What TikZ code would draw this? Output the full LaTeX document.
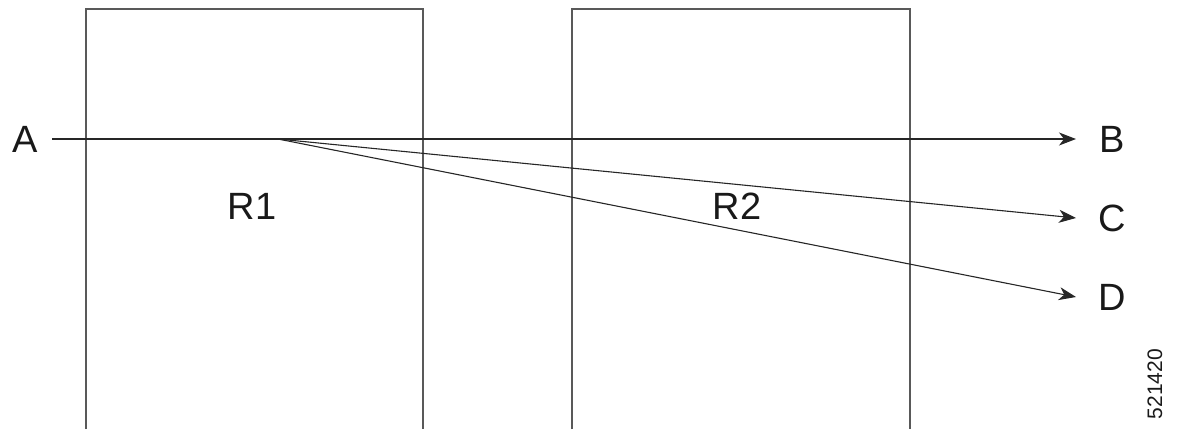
\documentclass[tikz,border=0pt]{standalone}
\usepackage{fontspec}
\setmainfont{Liberation Sans}
\usetikzlibrary{arrows.meta}
\begin{document}
\begin{tikzpicture}[x=1pt,y=-1pt,
  box/.style={draw=black!65, line width=1.5pt},
  conn/.style={draw=black!85, line width=1.1pt, -{Stealth[length=17pt,width=13pt,inset=5pt]}},
  lbl/.style={font=\fontsize{38}{40}\selectfont, inner sep=0pt, text=black!90}]
\useasboundingbox (0,0) rectangle (1178,429);
% boxes (open at the bottom)
\draw[box] (86,429) -- (86,9) -- (423,9) -- (423,429);
\draw[box] (572,429) -- (572,9) -- (910,9) -- (910,429);
% labels
\node[lbl] (A) at (25,139) {A};
\node[lbl] (R1) at (252,206) {R1};
\node[lbl] (R2) at (737,206) {R2};
\node[lbl] (B) at (1112,139) {B};
\node[lbl] (C) at (1112,218) {C};
\node[lbl] (D) at (1112,297) {D};
\node[rotate=90, font=\fontsize{21}{21}\selectfont, inner sep=0pt, text=black!90] (num) at (1155,384) {521420};
% connector points
\coordinate (a0) at (52,139);
\coordinate (br) at (278,139);
\coordinate (bt) at (1076,139);
\coordinate (ct) at (1076,218);
\coordinate (dt) at (1076,297);
\draw[conn] (a0) -- (bt);
\draw[conn] (br) -- (ct);
\draw[conn] (br) -- (dt);
\end{tikzpicture}
\end{document}
